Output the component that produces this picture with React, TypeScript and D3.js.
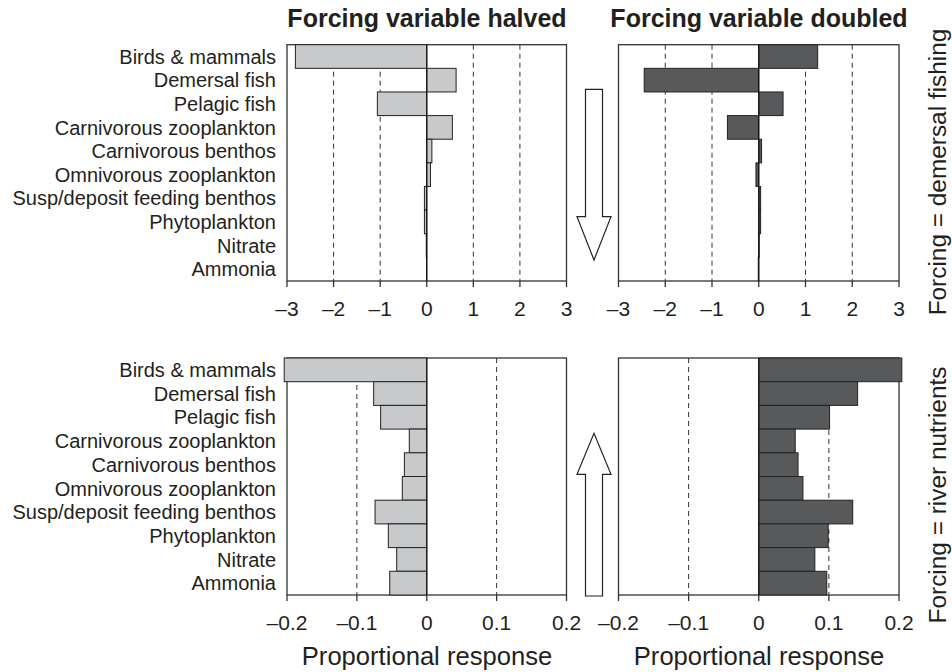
import React from 'react';
import * as d3 from 'd3';

const categories = [
  'Birds & mammals',
  'Demersal fish',
  'Pelagic fish',
  'Carnivorous zooplankton',
  'Carnivorous benthos',
  'Omnivorous zooplankton',
  'Susp/deposit feeding benthos',
  'Phytoplankton',
  'Nitrate',
  'Ammonia',
];

// forcing = demersal fishing
const fishingHalved = [-2.82, 0.63, -1.06, 0.55, 0.11, 0.08, -0.05, -0.05, -0.01, -0.005];
const fishingDoubled = [1.26, -2.45, 0.52, -0.67, 0.06, -0.06, 0.04, 0.04, 0.01, -0.01];

// forcing = river nutrients
const nutrientsHalved = [-0.204, -0.076, -0.066, -0.025, -0.032, -0.035, -0.074, -0.055, -0.043, -0.053];
const nutrientsDoubled = [0.204, 0.141, 0.101, 0.052, 0.056, 0.063, 0.134, 0.099, 0.08, 0.097];

const fishingTicks = [-3, -2, -1, 0, 1, 2, 3];
const fishingGrid = [-2, -1, 1, 2];
const nutrientTicks = [-0.2, -0.1, 0, 0.1, 0.2];
const nutrientGrid = [-0.1, 0.1];

const FONT = '"Liberation Sans", Arial, Helvetica, sans-serif';
const INK = '#231f20';
const LIGHT = '#c8c9cb';
const DARK = '#58595b';

const fmt = (v: number) => {
  if (v === 0) return '0';
  const s = Math.abs(v).toString();
  return (v < 0 ? '\u2013' : '') + s;
};

interface PanelProps {
  values: number[];
  x0: number;
  x1: number;
  y0: number;
  y1: number;
  domain: [number, number];
  ticks: number[];
  grid: number[];
  fill: string;
}

const Panel: React.FC<PanelProps> = ({ values, x0, x1, y0, y1, domain, ticks, grid, fill }) => {
  const x = d3.scaleLinear().domain(domain).range([x0, x1]);
  const y = d3.scaleBand<string>().domain(categories).range([y0, y1]).padding(0);
  const zero = x(0);
  return (
    <g>
      <rect x={x0} y={y0} width={x1 - x0} height={y1 - y0} fill="none" stroke="#333" strokeWidth={1.3} />
      {grid.map((g) => (
        <line key={g} x1={x(g)} x2={x(g)} y1={y0} y2={y1} stroke="#333" strokeWidth={1} strokeDasharray="5,4" />
      ))}
      {values.map((v, i) => {
        const c = categories[i];
        const a = Math.min(zero, x(v));
        const w = Math.abs(x(v) - zero);
        return (
          <rect key={c} x={a} y={y(c)!} width={w} height={y.bandwidth()} fill={fill} stroke="#222" strokeWidth={1} />
        );
      })}
      <line x1={zero} x2={zero} y1={y0} y2={y1} stroke="#111" strokeWidth={1.2} />
      {ticks.map((t) => (
        <g key={t}>
          <line x1={x(t)} x2={x(t)} y1={y1} y2={y1 + 6} stroke="#333" strokeWidth={1.3} />
          <text x={x(t)} y={y1 + 35} textAnchor="middle" fontSize={21} fill={INK} fontFamily={FONT}>
            {fmt(t)}
          </text>
        </g>
      ))}
    </g>
  );
};

const Labels: React.FC<{ y0: number; y1: number }> = ({ y0, y1 }) => {
  const y = d3.scaleBand<string>().domain(categories).range([y0, y1]);
  return (
    <g>
      {categories.map((c) => (
        <text key={c} x={276} y={y(c)! + y.bandwidth() / 2} dy="0.36em" textAnchor="end" fontSize={20} fill={INK} fontFamily={FONT}>
          {c}
        </text>
      ))}
    </g>
  );
};

const Arrow: React.FC<{ cx: number; tail: number; base: number; tip: number }> = ({ cx, tail, base, tip }) => {
  const sw = 8.5;
  const hw = 17;
  const d = `M${cx - sw},${tail} L${cx + sw},${tail} L${cx + sw},${base} L${cx + hw},${base} L${cx},${tip} L${cx - hw},${base} L${cx - sw},${base} Z`;
  return <path d={d} fill="#fff" stroke="#222" strokeWidth={1.2} />;
};

export default function App() {
  const leftX: [number, number] = [287, 566.5];
  const rightX: [number, number] = [618.5, 899];
  const topY: [number, number] = [44.7, 281];
  const botY: [number, number] = [358, 595];
  return (
    <svg width={952} height={672} style={{ position: 'absolute', left: 0, top: 0, background: '#fff' }}>
      <rect x={0} y={0} width={952} height={672} fill="#fff" />
      <text x={427} y={27} textAnchor="middle" fontSize={25} fontWeight="bold" fill={INK} fontFamily={FONT}>
        Forcing variable halved
      </text>
      <text x={759} y={27} textAnchor="middle" fontSize={25} fontWeight="bold" fill={INK} fontFamily={FONT}>
        Forcing variable doubled
      </text>

      <Labels y0={topY[0]} y1={topY[1]} />
      <Labels y0={botY[0]} y1={botY[1]} />

      <Panel values={fishingHalved} x0={leftX[0]} x1={leftX[1]} y0={topY[0]} y1={topY[1]} domain={[-3, 3]} ticks={fishingTicks} grid={fishingGrid} fill={LIGHT} />
      <Panel values={fishingDoubled} x0={rightX[0]} x1={rightX[1]} y0={topY[0]} y1={topY[1]} domain={[-3, 3]} ticks={fishingTicks} grid={fishingGrid} fill={DARK} />
      <Panel values={nutrientsHalved} x0={leftX[0]} x1={leftX[1]} y0={botY[0]} y1={botY[1]} domain={[-0.2, 0.2]} ticks={nutrientTicks} grid={nutrientGrid} fill={LIGHT} />
      <Panel values={nutrientsDoubled} x0={rightX[0]} x1={rightX[1]} y0={botY[0]} y1={botY[1]} domain={[-0.2, 0.2]} ticks={nutrientTicks} grid={nutrientGrid} fill={DARK} />

      <Arrow cx={594} tail={89.3} base={216.7} tip={260} />
      <Arrow cx={594} tail={596} base={474.3} tip={433.3} />

      <text x={427} y={665} textAnchor="middle" fontSize={25.6} fill={INK} fontFamily={FONT}>
        Proportional response
      </text>
      <text x={759} y={665} textAnchor="middle" fontSize={25.6} fill={INK} fontFamily={FONT}>
        Proportional response
      </text>

      <text transform="translate(946,172) rotate(-90)" textAnchor="middle" fontSize={24.4} fill={INK} fontFamily={FONT}>
        Forcing = demersal fishing
      </text>
      <text transform="translate(946,495) rotate(-90)" textAnchor="middle" fontSize={24.4} fill={INK} fontFamily={FONT}>
        Forcing = river nutrients
      </text>
    </svg>
  );
}
